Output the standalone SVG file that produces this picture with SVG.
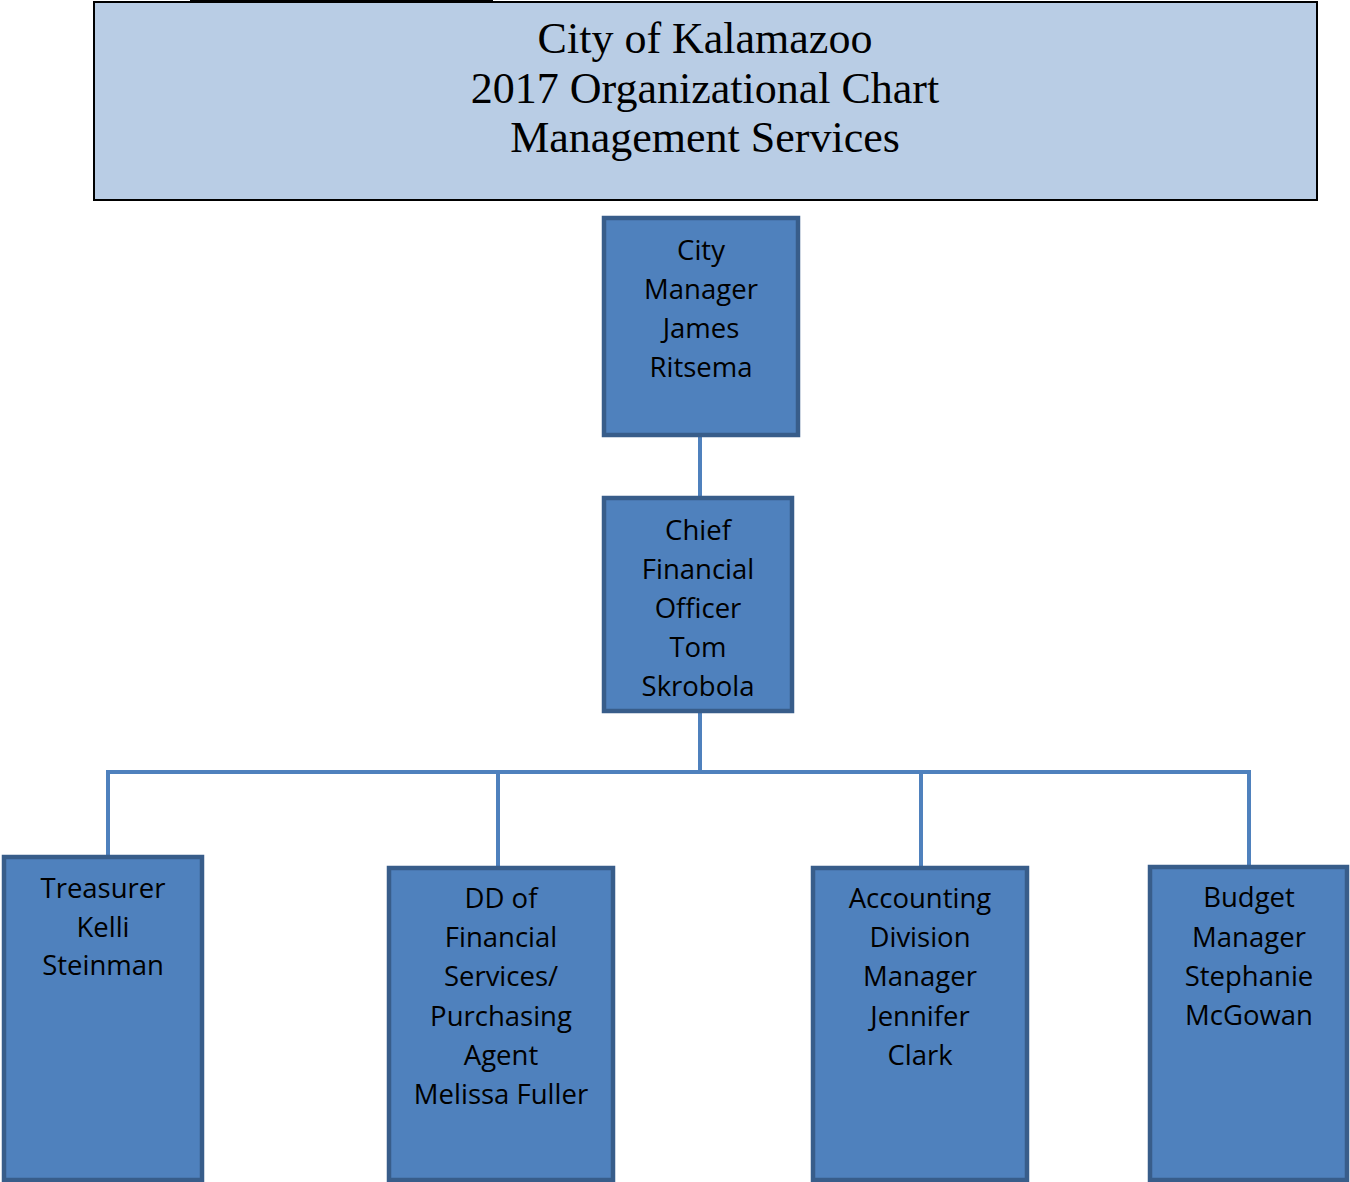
<svg xmlns="http://www.w3.org/2000/svg" width="1350" height="1182" viewBox="0 0 1350 1182">
<style>
.box{fill:#4F81BD;stroke:#385D8A;stroke-width:4.5}
.t{font-family:"Open Sans","Liberation Sans",sans-serif;font-size:27.5px;fill:#000;text-anchor:middle}
.title{font-family:"Liberation Serif","DejaVu Serif",serif;font-size:44px;fill:#000;text-anchor:middle}
.c{stroke:#4F81BD;stroke-width:4;fill:none}
</style>
<rect x="0" y="0" width="1350" height="1182" fill="#fff"/>
<g id="title">
<rect x="94" y="2" width="1223" height="198" fill="#B9CDE5" stroke="#000" stroke-width="2"/>
<rect x="190" y="0" width="303" height="3" fill="#000"/>
<text class="title" x="705" y="53">City of Kalamazoo</text>
<text class="title" x="705" y="103">2017 Organizational Chart</text>
<text class="title" x="705" y="152">Management Services</text>
</g>
<g id="connectors">
<line class="c" x1="700" y1="437" x2="700" y2="497"/>
<line class="c" x1="700" y1="713" x2="700" y2="772"/>
<polyline class="c" points="108,855 108,772 1249,772 1249,866"/>
<line class="c" x1="498" y1="772" x2="498" y2="866"/>
<line class="c" x1="921" y1="772" x2="921" y2="866"/>
</g>
<g id="city-manager">
<rect class="box" x="604" y="218" width="194" height="217"/>
<text class="t" x="701" y="260">City</text>
<text class="t" x="701" y="299">Manager</text>
<text class="t" x="701" y="338">James</text>
<text class="t" x="701" y="377">Ritsema</text>
</g>
<g id="cfo">
<rect class="box" x="604" y="498" width="188" height="213"/>
<text class="t" x="698" y="540">Chief</text>
<text class="t" x="698" y="579">Financial</text>
<text class="t" x="698" y="618">Officer</text>
<text class="t" x="698" y="657">Tom</text>
<text class="t" x="698" y="696">Skrobola</text>
</g>
<g id="treasurer">
<rect class="box" x="4" y="857" width="198" height="323"/>
<text class="t" x="103" y="898">Treasurer</text>
<text class="t" x="103" y="937">Kelli</text>
<text class="t" x="103" y="975">Steinman</text>
</g>
<g id="dd-financial">
<rect class="box" x="389" y="868" width="224" height="312"/>
<text class="t" x="501" y="908">DD of</text>
<text class="t" x="501" y="947">Financial</text>
<text class="t" x="501" y="986">Services/</text>
<text class="t" x="501" y="1026">Purchasing</text>
<text class="t" x="501" y="1065">Agent</text>
<text class="t" x="501" y="1104">Melissa Fuller</text>
</g>
<g id="accounting">
<rect class="box" x="813" y="868" width="214" height="312"/>
<text class="t" x="920" y="908">Accounting</text>
<text class="t" x="920" y="947">Division</text>
<text class="t" x="920" y="986">Manager</text>
<text class="t" x="920" y="1026">Jennifer</text>
<text class="t" x="920" y="1065">Clark</text>
</g>
<g id="budget">
<rect class="box" x="1150" y="867" width="197" height="313"/>
<text class="t" x="1249" y="907">Budget</text>
<text class="t" x="1249" y="947">Manager</text>
<text class="t" x="1249" y="986">Stephanie</text>
<text class="t" x="1249" y="1025">McGowan</text>
</g>
</svg>
